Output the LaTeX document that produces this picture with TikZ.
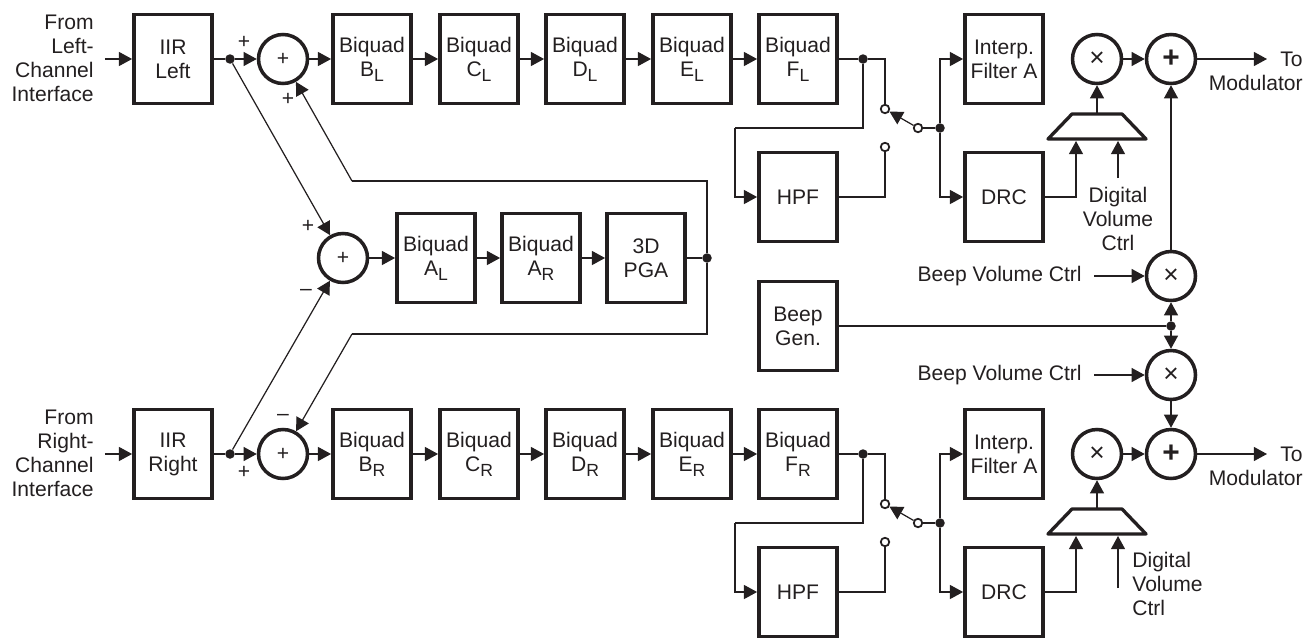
\documentclass[tikz,border=0pt]{standalone}
\usepackage{fontspec}
\setmainfont{Liberation Sans}
\usepackage{xcolor}
\usepackage{tikz}
\usetikzlibrary{arrows.meta}
\definecolor{ink}{HTML}{231F20}
\newcommand{\sbs}[1]{\raisebox{-0.42ex}{\fontsize{10}{10}\selectfont #1}}

\begin{document}
\begin{tikzpicture}[
  x=0.02cm, y=-0.02cm,
  font=\fontsize{12}{13.7}\selectfont,
  every node/.style={text=ink},
  blk/.style={draw=ink, line width=2.2pt, minimum width=1.56cm, minimum height=1.78cm, inner sep=0pt, align=center},
  rnd/.style={circle, draw=ink, line width=2pt, minimum size=0.98cm, inner sep=0pt},
  mux/.style={draw=ink, line width=1.9pt, line join=round},
  dot/.style={circle, fill=ink, inner sep=0pt, minimum size=0.19cm},
  tap/.style={circle, draw=ink, fill=white, line width=1pt, inner sep=0pt, minimum size=0.17cm},
  lbl/.style={align=center, inner sep=0pt},
  sgn/.style={inner sep=0pt, font=\fontsize{12}{12}\selectfont},
  wire/.style={draw=ink, line width=0.7pt},
  sig/.style={wire, -{Triangle[length=7.5pt,width=8pt]}}
]
\useasboundingbox (0,0) rectangle (1314,639);
\foreach \cy/\ch/\side/\vt in {59/L/Left/119, 454/R/Right/134} {
  \node[lbl, align=right, anchor=east] (from\ch) at (94,\cy-1) {From\\\side-\\Channel\\Interface};
  \node[blk] (iir\ch) at (173,\cy) {IIR\\\side};
  \node[dot] (tee\ch) at (230,\cy) {};
  \node[rnd] (add\ch) at (283,\cy) {+};
  \draw[sig, shorten <=0.22cm] (from\ch.east|-iir\ch) -- (iir\ch);
  \draw[wire] (iir\ch) -- (tee\ch);
  \draw[sig] (tee\ch) -- (add\ch);
  \foreach \px/\id/\prv in {372/B/add\ch, 479/C/bqB\ch, 585/D/bqC\ch, 692/E/bqD\ch, 798/F/bqE\ch} {
    \node[blk] (bq\id\ch) at (\px,\cy) {Biquad\\\id\sbs{\ch}};
    \draw[sig] (\prv) -- (bq\id\ch);
  }
  % output switch
  \node[dot] (out\ch) at (863,\cy) {};
  \node[tap] (swa\ch) at (885,\cy+50) {};
  \node[tap] (swb\ch) at (885,\cy+88) {};
  \node[tap] (swc\ch) at (918,\cy+69) {};
  \node[dot] (sw\ch) at (940,\cy+69) {};
  \node[blk] (hpf\ch) at (798,\cy+138) {HPF};
  \node[blk] (int\ch) at (1004,\cy) {Interp.\\Filter A};
  \node[blk] (drc\ch) at (1004,\cy+138) {DRC};
  \coordinate (lp\ch) at (735,\cy+69);
  \draw[wire] (bqF\ch) -- (out\ch);
  \draw[wire] (out\ch) -| (swa\ch);
  \draw[wire] (out\ch) |- (lp\ch);
  \draw[sig] (lp\ch) |- (hpf\ch);
  \draw[wire] (hpf\ch) -| (swb\ch);
  \draw[sig] (swc\ch) -- (swa\ch);
  \draw[wire] (swc\ch) -- (sw\ch);
  \draw[sig] (sw\ch) |- (int\ch);
  \draw[sig] (sw\ch) |- (drc\ch);
  % gain and mix
  \node[rnd, font=\fontsize{15}{15}\selectfont] (mul\ch) at (1097,\cy) {×};
  \node[rnd, font=\fontsize{17}{17}\selectfont\bfseries] (mix\ch) at (1171,\cy) {+};
  \draw[mux] (1072,\cy+55) -- (1122,\cy+55) -- (1146,\cy+80) -- (1048,\cy+80) -- cycle;
  \coordinate (mxo\ch) at (1097,\cy+55);
  \coordinate (ma\ch) at (1076,\cy+82);
  \coordinate (mb\ch) at (1118,\cy+82);
  \coordinate (vol\ch) at (1118,\cy+\vt);
  \coordinate (end\ch) at (1267,\cy);
  \node[lbl, align=right, anchor=north east] (to\ch) at (1303,\cy-7) {To\\Modulator};
  \draw[sig] (mxo\ch) -- (mul\ch);
  \draw[sig] (drc\ch) -| (ma\ch);
  \draw[sig] (vol\ch) -- (mb\ch);
  \draw[sig] (mul\ch) -- (mix\ch);
  \draw[sig] (mix\ch) -- (end\ch);
}
\node[lbl, anchor=north] (dvcL) at (1118,187) {Digital\\Volume\\Ctrl};
\node[lbl, align=left, anchor=north west] (dvcR) at (1132,552) {Digital\\Volume\\Ctrl};
% 3D path
\node[rnd] (addM) at (343,258) {+};
\node[blk] (bqAL) at (436,258) {Biquad\\A\sbs{L}};
\node[blk] (bqAR) at (541,258) {Biquad\\A\sbs{R}};
\node[blk] (pga) at (646,258) {3D\\PGA};
\node[dot] (pgaout) at (707,258) {};
\coordinate (fbL) at (352,181);
\coordinate (fbR) at (352,334);
\draw[sig] (addM) -- (bqAL);
\draw[sig] (bqAL) -- (bqAR);
\draw[sig] (bqAR) -- (pga);
\draw[wire] (pga) -- (pgaout);
\draw[wire] (pgaout) |- (fbL);
\draw[wire] (pgaout) |- (fbR);
\draw[sig] (fbL) -- (addL);
\draw[sig] (fbR) -- (addR);
\draw[sig] (teeL) -- (addM);
\draw[sig] (teeR) -- (addM);
\node[sgn] (sa) at (244,42) {+};
\node[sgn] (sb) at (288,99) {+};
\node[sgn] (sc) at (308,226) {+};
\node[sgn] (sd) at (306,292) {–};
\node[sgn] (se) at (283,417) {–};
\node[sgn] (sf) at (244,472) {+};
% beep
\node[blk] (beep) at (798,326) {Beep\\Gen.};
\node[dot] (beepdot) at (1171,326) {};
\node[rnd, font=\fontsize{15}{15}\selectfont] (mulU) at (1171,276) {×};
\node[rnd, font=\fontsize{15}{15}\selectfont] (mulD) at (1171,375) {×};
\node[lbl, anchor=east] (bvU) at (1082,276) {Beep Volume Ctrl};
\node[lbl, anchor=east] (bvD) at (1082,375) {Beep Volume Ctrl};
\draw[wire] (beep) -- (beepdot);
\draw[sig] (beepdot) -- (mulU);
\draw[sig] (beepdot) -- (mulD);
\draw[sig, shorten <=0.24cm] (bvU) -- (mulU);
\draw[sig, shorten <=0.24cm] (bvD) -- (mulD);
\draw[sig] (mulU) -- (mixL);
\draw[sig] (mulD) -- (mixR);
\end{tikzpicture}
\end{document}
